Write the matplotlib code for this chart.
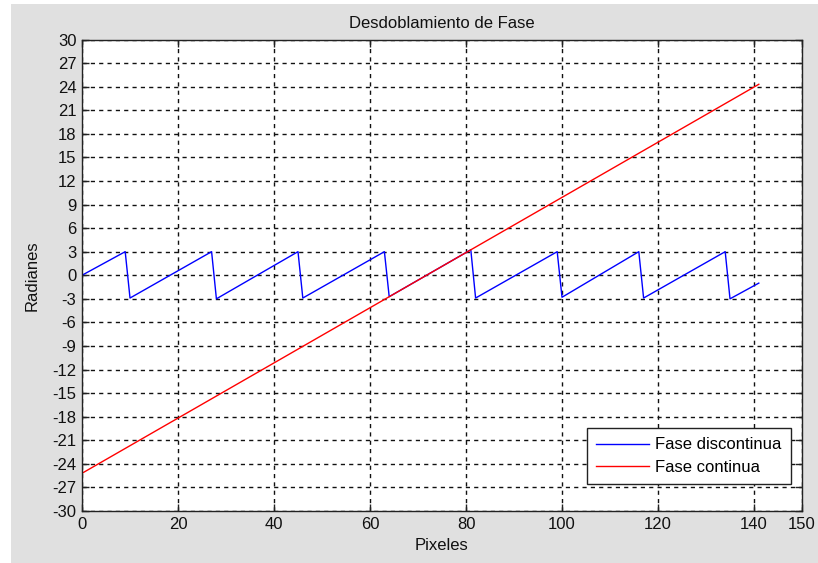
import matplotlib
matplotlib.use("Agg")
import matplotlib.pyplot as plt
from matplotlib.patches import Rectangle

# Data
blue_x = [0, 9, 10, 27, 28, 45, 46, 63, 64, 81, 82, 99, 100, 116, 117, 134, 135, 141]
blue_y = [0.0, 3.0, -2.9, 3.0, -3.0, 3.0, -2.9, 3.0, -2.73, 3.24, -2.9, 3.0, -2.8, 3.0, -2.9, 3.0, -3.0, -1.0]
red_x = [0, 141]
red_y = [-25.2, 24.3]
x_ticks = [0, 20, 40, 60, 80, 100, 120, 140, 150]
y_ticks = list(range(-30, 31, 3))

plt.rcParams['font.family'] = ['Liberation Sans', 'DejaVu Sans']
plt.rcParams['font.size'] = 12
plt.rcParams['axes.unicode_minus'] = False

FS = 12
W, H = 818, 563
fig = plt.figure(figsize=(W / 100, H / 100), dpi=100, facecolor='#E0E0E0')
fig.patches.append(Rectangle((0, 0), 11 / W, 1, transform=fig.transFigure,
                             facecolor='white', edgecolor='none', zorder=0))
fig.patches.append(Rectangle((0, 1 - 4 / H), 1, 4 / H, transform=fig.transFigure,
                             facecolor='white', edgecolor='none', zorder=0))

left, right, top, bottom = 82, 802, 39.5, 511
ax = fig.add_axes([left / W, (H - bottom) / H, (right - left) / W, (bottom - top) / H])
ax.set_facecolor('white')

ax.plot(blue_x, blue_y, color='blue', lw=1.0, label='Fase discontinua')
ax.plot(red_x, red_y, color='red', lw=1.0, label='Fase continua')

ax.set_xlim(0, 150)
ax.set_ylim(-30, 30)
ax.set_xticks(x_ticks)
ax.set_yticks(y_ticks)
ax.grid(True, color='#111111', linestyle=(0, (3, 3)), linewidth=1.0)
ax.set_axisbelow(True)
ax.tick_params(direction='in', top=True, right=True, length=5, width=1,
               color='#222222', labelsize=FS, labelcolor='#111111')
ax.tick_params(axis='y', pad=4)
ax.tick_params(axis='x', pad=4)
for s in ax.spines.values():
    s.set_color('#222222')
    s.set_linewidth(1.0)

ax.set_title('Desdoblamiento de Fase', fontsize=FS, pad=8.5, color='#111111')
ax.set_xlabel('Pixeles', fontsize=FS, labelpad=5, color='#111111')
ax.set_ylabel('Radianes', fontsize=FS, labelpad=9, color='#111111')

leg = ax.legend(loc='lower right', bbox_to_anchor=(790.7 / W, (H - 484) / H),
                bbox_transform=fig.transFigure, fontsize=FS, frameon=True,
                fancybox=False, framealpha=1, edgecolor='#222222',
                handlelength=3.2, handletextpad=0.35, borderpad=0.55,
                labelspacing=0.45, borderaxespad=0)
leg.get_frame().set_linewidth(1.0)

fig.savefig('out.png', dpi=100, facecolor=fig.get_facecolor())
